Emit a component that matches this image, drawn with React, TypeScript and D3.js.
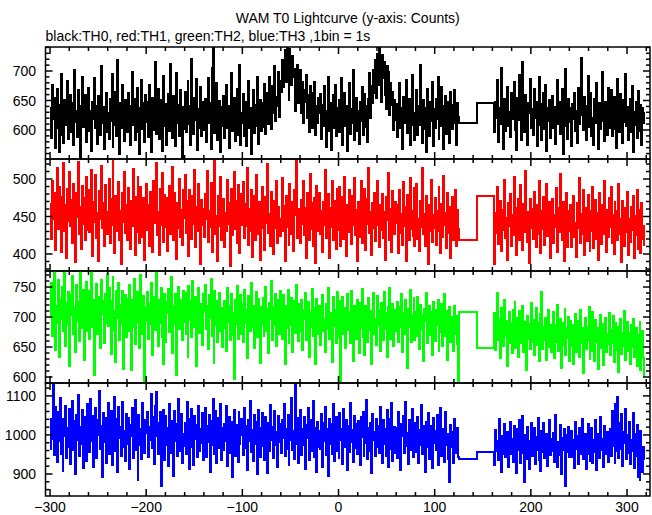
import React from 'react';
import * as d3 from 'd3';

// ---------- data (1 s bins) ----------
const T_START = -300;          // first bin of the pre-gap segment
const POST_START = 162;        // first bin after the gap
const GAP_EDGES = [125, 144, 162]; // two wide bins covering the data gap

const TH0_PRE = [
637,587,676,618,654,570,628,669,604,563,643,695,592,630,578,651,634,609,683,585,
622,660,597,646,575,701,614,633,588,667,626,552,641,690,605,621,659,580,638,612,
671,599,632,565,648,619,688,603,640,576,657,624,592,709,611,639,568,627,662,596,
629,584,653,615,695,571,637,608,664,590,719,626,560,645,603,677,618,581,650,632,
597,663,620,574,641,699,608,652,583,627,671,596,638,559,616,684,602,645,579,660,
613,647,588,676,625,562,654,600,639,715,593,628,670,584,617,651,565,635,692,606,
644,575,630,661,599,712,620,586,657,634,573,696,611,642,590,668,625,553,639,601,
665,596,632,683,610,641,574,720,628,593,654,617,687,566,636,603,673,589,648,621,
600,653,579,631,688,612,645,568,705,742,661,595,627,680,583,615,649,562,639,606,
658,587,622,676,604,641,569,633,697,598,627,655,581,614,670,592,636,710,575,628,
611,661,590,648,572,629,683,603,638,559,620,667,595,642,606,689,576,624,651,598,
646,605,631,678,594,622,663,610,690,637,601,674,628,709,615,656,640,698,622,683,
664,718,673,700,736,682,742,704,651,738,715,676,726,690,704,632,683,710,646,695,
702,629,681,612,668,647,693,620,659,596,674,638,603,662,625,681,592,640,611,654,
628,661,585,642,606,674,619,571,633,690,598,645,566,626,659,603,677,589,637,612,
650,597,625,688,574,632,662,606,641,565,619,680,594,636,611,702,583,627,654,599,
633,576,648,615,673,591,629,661,605,640,580,652,697,621,674,646,701,663,719,655,
728,676,740,694,648,727,688,715,660,635,709,671,698,626,680,643,664,600,651,617,
644,588,626,679,604,637,567,656,612,630,684,595,621,653,574,640,694,608,629,583,
615,667,592,641,608,710,624,578,650,601,637,563,669,627,590,648,616,681,572,635,
603,652,619,690,584,631,606,673,640,567,622,658,593,647,612,578,664,629,601,643,
668,611,575,646,622];
const TH0_GAP = [612, 645];
const TH0_POST = [
596,648,621,684,579,637,610,705,627,568,652,599,640,673,606,631,588,662,618,645,
681,600,634,566,655,617,693,624,583,716,639,596,659,612,574,646,628,687,603,636,
591,669,620,648,572,633,690,609,644,583,626,662,601,677,564,638,615,651,587,624,
658,603,639,576,622,685,610,647,594,630,669,559,641,606,703,620,585,653,614,637,
572,644,619,662,598,633,578,671,610,649,722,625,600,656,617,583,640,692,605,628,
663,590,621,574,652,611,680,627,568,645,602,636,699,615,581,648,626,591,671,604,
634,667,589,625,656,602,643,570,686,620,597,661,629,578,650,614,695,607,639,583,
622,652,597,674,563,631,609,648,586,666,620,599,643,575,637,612,628];

const TH1_PRE = [
467,420,498,446,481,405,462,515,433,489,441,402,476,452,521,430,466,395,487,444,
510,437,472,415,494,458,389,481,449,523,426,463,407,491,440,475,418,503,451,432,
486,429,459,512,397,470,443,506,421,455,390,484,447,518,435,468,410,492,456,426,
449,500,415,473,438,525,452,401,478,431,464,496,419,457,386,482,442,509,428,465,
419,488,452,406,471,437,514,445,398,476,429,503,461,414,490,448,423,475,392,457,
493,432,466,411,483,454,402,497,441,470,521,425,456,399,487,438,508,446,416,479,
436,475,404,462,491,427,450,516,418,481,445,393,468,434,500,423,459,412,485,448,
505,428,471,443,397,486,452,420,477,440,512,409,463,431,494,455,386,472,439,460,
422,480,447,511,416,458,436,495,403,469,444,524,427,451,390,478,437,503,419,462,
474,409,455,431,499,440,468,384,487,425,457,510,433,471,414,492,446,401,480,438,
453,496,421,467,437,515,412,460,430,485,396,449,477,418,506,443,426,470,392,458,
489,434,462,405,476,441,520,428,454,411,483,446,400,471,435,497,415,463,442,424,
447,501,430,464,391,478,436,455,412,494,427,469,445,404,486,452,524,421,460,438,
415,472,440,497,425,461,394,482,449,418,507,433,468,410,475,442,388,491,430,456,
481,426,457,402,470,438,512,421,453,480,395,462,436,498,419,448,471,406,487,444,
432,490,411,455,476,420,503,443,397,466,429,485,452,413,478,438,502,425,459,391,
470,423,462,498,414,446,431,487,405,474,440,515,428,456,399,468,435,482,417,451,
497,438,409,465,432,480,421,456,392,476,445,508,419,460,437,403,484,447,426,470,
441,466,401,486,428,454,412,496,437,463,390,479,446,418,502,433,457,424,488,410,
459,494,420,447,404,471,436,515,426,453,410,478,441,387,466,430,499,416,452,435,
475,412,458,430,489,447,401,467,423,504,439,455,408,482,428,463,394,450,476,419,
442,486,411,459,433];
const TH1_GAP = [418, 478];
const TH1_POST = [
386,455,428,490,413,446,471,404,459,432,499,421,448,392,468,437,480,410,452,425,
503,431,462,398,447,474,419,492,438,405,467,429,511,441,416,456,388,473,434,460,
420,483,440,409,465,427,497,445,401,458,433,476,412,451,493,424,437,469,395,448,
474,414,452,436,488,402,461,429,507,443,418,470,390,447,425,482,409,458,431,466,
409,449,477,423,441,396,468,435,501,415,453,426,486,399,444,462,417,479,428,404,
458,431,490,408,446,472,420,455,392,481,437,413,466,427,497,441,403,459,423,475,
436,489,414,452,400,469,431,457,418,494,426,446,389,471,438,410,462,429,483,398,
447,416,463,432,478,394,451,425,486,407,441,459,401,468,420,437,412];

const TH2_PRE = [
701,756,668,732,776,645,719,690,762,633,728,697,750,676,709,776,652,723,688,741,
618,737,703,768,672,715,641,753,694,725,660,776,707,682,745,629,716,758,676,699,
744,664,711,776,683,729,603,718,755,671,734,695,649,762,705,727,656,738,690,771,
685,748,702,638,726,766,679,710,625,743,699,757,662,720,688,744,614,709,736,667,
730,676,753,697,612,728,684,764,655,712,741,691,718,648,770,703,672,735,594,716,
694,742,663,721,689,757,637,710,734,678,776,701,651,729,690,748,666,714,622,738,
659,725,707,746,675,704,766,640,719,688,738,603,712,750,680,697,729,661,744,692,
740,671,713,634,752,695,726,666,760,708,683,733,618,705,748,674,722,691,653,739,
708,754,680,718,647,736,699,764,669,711,624,743,686,727,659,701,740,677,715,650,
681,726,703,643,749,692,718,661,738,670,707,596,729,688,752,663,715,697,737,672,
722,658,745,690,712,631,735,702,677,756,684,719,649,708,741,667,730,694,623,716,
689,731,668,707,750,676,713,640,724,697,760,662,717,686,739,651,703,728,671,744,
704,663,736,691,622,719,682,745,656,712,687,731,642,706,727,674,753,695,660,721,
677,729,645,711,696,740,661,702,725,634,709,683,747,668,715,690,621,730,698,672,
718,654,701,737,676,696,641,722,680,748,663,706,690,625,733,685,711,657,741,693,
666,726,589,700,734,672,715,649,694,739,678,709,656,743,687,627,719,691,664,728,
699,640,723,682,746,667,705,636,718,693,659,732,679,710,621,702,740,671,697,653,
735,686,712,644,724,698,661,741,680,706,633,717,689,749,663,700,722,652,711,676,
694,725,658,716,683,738,642,707,671,729,690,615,713,684,745,659,703,677,731,662,
708,669,734,691,647,720,680,703,626,714,693,740,656,696,719,670,708,637,725,684,
660,712,687,729,644,701,675,722,651,697,738,668,710,629,691,717,658,700,676,643,
719,671,702,655,590];
const TH2_GAP = [709, 649];
const TH2_POST = [
706,645,688,740,662,697,631,715,676,652,728,668,694,619,683,709,657,690,640,712,
674,725,649,698,666,634,710,681,657,719,642,692,670,612,701,663,688,646,723,659,
695,637,680,715,654,690,626,705,668,741,647,684,661,698,628,676,712,650,687,641,
668,709,632,686,659,720,644,677,697,615,671,690,653,714,636,682,665,700,627,693,
651,687,622,676,705,642,668,694,633,712,657,681,606,673,699,646,684,661,717,630,
689,644,709,668,627,695,658,681,613,676,703,649,688,620,663,698,641,672,655,707,
636,679,656,701,625,668,690,645,684,608,662,697,639,674,651,710,628,667,691,643,
673,622,686,650,697,634,662,681,618,670,647,692,611,658,676,632,602];

const TH3_PRE = [
965,1042,990,1130,948,1071,1003,931,1058,985,1094,952,1027,908,1040,996,1075,941,1018,970,
1066,926,1013,1088,962,1035,899,1052,987,1101,945,1020,976,1063,915,1046,998,934,1079,1006,
1029,957,1092,984,1048,919,1011,1069,940,1037,1000,1112,963,1024,892,1057,981,1043,927,1015,
1083,950,1005,1061,922,1034,986,1097,958,1041,905,1072,993,1020,947,1085,968,1009,933,1054,
978,1044,913,1026,997,1068,940,1012,1090,961,1033,884,1050,975,1016,938,1081,1002,955,1037,
1006,1060,943,1021,988,1104,966,1045,925,1075,1110,996,950,1031,1058,868,1019,983,1064,937,
1049,974,1017,920,1078,1001,955,1036,896,1062,985,1027,946,1091,960,1012,1053,929,1003,972,
1030,951,1085,993,1040,912,1007,1066,970,923,1048,989,1025,944,1073,958,1014,980,1057,935,
998,1069,943,1022,982,1050,904,1036,975,1093,951,1011,1061,928,1003,1044,966,1080,937,1019,
962,1028,985,1074,920,1006,1047,955,1032,891,1016,1065,947,990,1025,931,1058,978,1009,1042,
1001,948,1070,967,1022,909,1039,984,1088,957,1013,932,1052,976,1034,899,1064,990,943,1018,
1056,971,1012,935,1045,996,902,1031,959,1077,988,1021,940,1062,973,1008,917,1049,982,1027,
954,1039,991,1080,946,1016,965,1052,923,1035,986,1094,961,1011,939,1128,978,1043,929,1007,
1063,948,1015,975,1047,912,1025,993,1068,937,1002,1039,960,1086,944,1018,982,906,1033,970,
1009,963,1054,918,1030,985,1072,949,1016,896,1041,976,1028,952,1079,934,1000,1046,958,1021,
942,1057,987,1014,925,1066,970,1003,1038,911,1024,957,1081,983,1012,930,1049,966,1027,951,
1035,972,922,1045,994,1060,945,1010,979,1090,938,1019,960,1031,903,1053,986,1008,947,1040,
968,1024,953,1071,989,929,1037,976,1015,947,1064,919,1002,1042,964,1083,934,998,1021,955,
1018,941,1059,982,910,1027,996,1048,953,1085,971,1006,926,1039,962,1012,1067,944,988,1030,
957,1001,1045,928,1013,973,1076,950,1022,986,904,1034,968,1055,939,997,1024,915,1043,979,
1011,962,1050,923,1032,981,1068,947,994,1016,931,1059,975,1003,938,880,1026,969,1007,927,
1040,955,992,1018,943];
const TH3_GAP = [938, 956];
const TH3_POST = [
922,1012,958,985,937,1041,969,906,996,951,1027,944,979,1008,918,967,1034,950,989,931,
1023,945,991,903,1016,962,1038,929,976,1049,955,880,1001,938,1020,968,912,984,1030,947,
978,1019,925,995,961,1044,936,971,908,1011,957,1030,941,986,1003,920,965,1039,948,990,
959,1006,931,1052,970,917,983,948,1026,900,993,962,1015,934,870,999,957,1021,943,976,
1011,944,987,915,1032,963,996,926,1018,951,973,1040,938,966,1003,912,981,1027,952,934,
975,1019,928,987,956,1037,910,968,1002,942,1046,961,989,919,1024,950,978,1008,931,967,
1014,946,1061,972,993,929,1078,958,1096,940,1031,965,1053,921,1007,979,1066,938,999,954,
1033,925,986,960,1057,915,1002,947,1025,893,975,884,1010,951,905,968,939];

const X_MAJOR_TICKS = [-300, -200, -100, 0, 100, 200, 300];
const TITLE = 'WAM T0 Lightcurve (y-axis: Counts)';
const SUBTITLE = 'black:TH0, red:TH1, green:TH2, blue:TH3 ,1bin = 1s';

const PANELS = [
  { name: 'TH0', color: '#000000', pre: TH0_PRE, gap: TH0_GAP, post: TH0_POST, domain: [550.8, 740.7], labels: [600, 650, 700], minor: 10 },
  { name: 'TH1', color: '#ff0000', pre: TH1_PRE, gap: TH1_GAP, post: TH1_POST, domain: [377.3, 526.7], labels: [400, 450, 500], minor: 10 },
  { name: 'TH2', color: '#00ff00', pre: TH2_PRE, gap: TH2_GAP, post: TH2_POST, domain: [590, 776.7], labels: [600, 650, 700, 750], minor: 10 },
  { name: 'TH3', color: '#0000ff', pre: TH3_PRE, gap: TH3_GAP, post: TH3_POST, domain: [843.6, 1133], labels: [900, 1000, 1100], minor: 20 },
];

// ---------- layout ----------
const W = 652, H = 515;
const LEFT = 45.5, RIGHT = 650;
const PANEL_EDGES = [47, 159, 271, 383, 496];
const FONT = '"Liberation Sans", Arial, Helvetica, sans-serif';

function bins(pre: number[], gap: number[], post: number[]) {
  const pts: [number, number][] = [];
  pre.forEach((v, i) => { const t = T_START + i; pts.push([t, v], [t + 1, v]); });
  gap.forEach((v, i) => { pts.push([GAP_EDGES[i], v], [GAP_EDGES[i + 1], v]); });
  post.forEach((v, i) => { const t = POST_START + i; pts.push([t, v], [t + 1, v]); });
  return pts;
}

const fmt = (n: number) => (n < 0 ? '\u2212' + Math.abs(n) : String(n));

export default function App() {
  const x = d3.scaleLinear().domain([-304.7, 323.9]).range([LEFT, RIGHT]);
  const xTicks = d3.range(-300, 321, 20);

  return (
    <svg width={W} height={H} style={{ position: 'absolute', left: 0, top: 0, background: '#fff' }}
      fontFamily={FONT}>
      <rect x={0} y={0} width={W} height={H} fill="#fff" />
      <text x={(LEFT + RIGHT) / 2} y={23} textAnchor="middle" fontSize={14}>{TITLE}</text>
      <text x={LEFT} y={41} fontSize={14}>{SUBTITLE}</text>
      <defs>
        {PANELS.map((p, k) => (
          <clipPath id={'clip' + k} key={k}>
            <rect x={LEFT} y={PANEL_EDGES[k]} width={RIGHT - LEFT} height={PANEL_EDGES[k + 1] - PANEL_EDGES[k]} />
          </clipPath>
        ))}
      </defs>
      {PANELS.map((p, k) => {
        const top = PANEL_EDGES[k], bot = PANEL_EDGES[k + 1];
        const y = d3.scaleLinear().domain(p.domain).range([bot, top]);
        const line = d3.line<[number, number]>().x(d => x(d[0])).y(d => y(d[1]));
        const pts = bins(p.pre, p.gap, p.post);
        const lo = Math.ceil(p.domain[0] / p.minor) * p.minor;
        const yTicks = d3.range(lo, p.domain[1], p.minor);
        return (
          <g key={k}>
            <path d={line(pts) || ''} fill="none" stroke={p.color} strokeWidth={2}
              shapeRendering="crispEdges"
              clipPath={`url(#clip${k})`} strokeLinejoin="miter" />
            {xTicks.map(t => {
              const major = t % 100 === 0;
              const len = major ? 7 : 4;
              const xx = x(t);
              return (
                <g key={t} stroke="#000" strokeWidth={1.5}>
                  <line x1={xx} x2={xx} y1={top} y2={top + len} />
                  <line x1={xx} x2={xx} y1={bot} y2={bot - len} />
                </g>
              );
            })}
            {yTicks.map(v => {
              const major = p.labels.includes(v);
              const len = major ? 7 : 4;
              const yy = y(v);
              return (
                <g key={v} stroke="#000" strokeWidth={1.5}>
                  <line x1={LEFT} x2={LEFT + len} y1={yy} y2={yy} />
                  <line x1={RIGHT} x2={RIGHT - len} y1={yy} y2={yy} />
                </g>
              );
            })}
            {p.labels.map(v => (
              <text key={v} x={36} y={y(v)} dy="0.36em" textAnchor="end" fontSize={14}>{v}</text>
            ))}
            <rect x={LEFT} y={top} width={RIGHT - LEFT} height={bot - top} fill="none" stroke="#000" strokeWidth={1.5} />
          </g>
        );
      })}
      {X_MAJOR_TICKS.map(t => (
        <text key={t} x={x(t)} y={512} textAnchor="middle" fontSize={14}>{fmt(t)}</text>
      ))}
    </svg>
  );
}
